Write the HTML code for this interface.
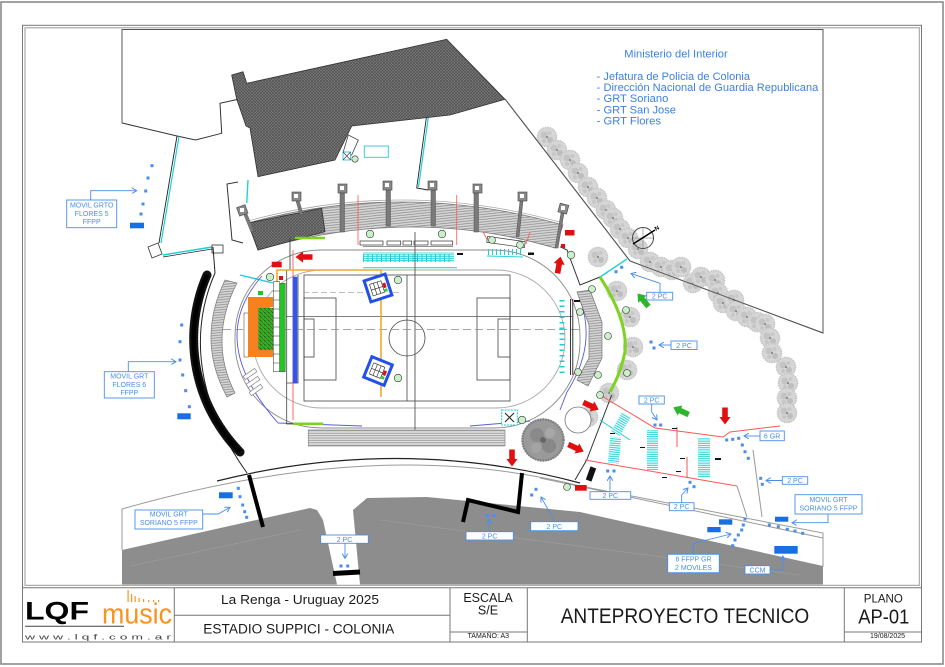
<!DOCTYPE html>
<html><head><meta charset="utf-8">
<style>
html,body{margin:0;padding:0;background:#fff;}
svg{display:block;}
text{font-family:"Liberation Sans",Arial,sans-serif;}
</style></head>
<body>
<svg width="945" height="667" viewBox="0 0 945 667" xmlns="http://www.w3.org/2000/svg">
<defs>
  <pattern id="hd" width="3" height="3" patternUnits="userSpaceOnUse">
    <rect width="3" height="3" fill="#808080"/>
    <path d="M0,0 L3,3 M3,0 L0,3" stroke="#4e4e4e" stroke-width="0.7"/>
  </pattern>
  <pattern id="hl" width="3" height="2.5" patternUnits="userSpaceOnUse" patternTransform="rotate(-6)">
    <rect width="3" height="2.5" fill="#d8d8d8"/>
    <line x1="0" y1="1.2" x2="3" y2="1.2" stroke="#8a8a8a" stroke-width="0.8"/>
  </pattern>
  <pattern id="hs" width="3" height="2.4" patternUnits="userSpaceOnUse">
    <rect width="3" height="2.4" fill="#e4e4e4"/>
    <line x1="0" y1="1.2" x2="3" y2="1.2" stroke="#8e8e8e" stroke-width="0.8"/>
  </pattern>
  <pattern id="cy" width="3" height="2.2" patternUnits="userSpaceOnUse">
    <rect width="3" height="2.2" fill="#fff"/>
    <line x1="0" y1="1.1" x2="3" y2="1.1" stroke="#1ccfd6" stroke-width="1"/>
  </pattern>
  <pattern id="gg" width="4" height="4" patternUnits="userSpaceOnUse">
    <rect width="4" height="4" fill="#22c622"/>
    <path d="M0,0 L4,4" stroke="#8a2020" stroke-width="0.6"/>
    <path d="M0,0 H4 M0,0 V4" stroke="#333" stroke-width="0.4"/>
  </pattern>
  <g id="tr">
    <circle r="10" fill="#d6d6d6"/>
    <circle r="9.6" fill="none" stroke="#c2c2c2" stroke-width="1.6" stroke-dasharray="1 1.4"/>
    <circle cx="-3" cy="-2" r="3.5" fill="#c4c4c4"/>
    <circle cx="3" cy="3" r="3" fill="#bebebe"/>
    <circle cx="2.5" cy="-4" r="2" fill="#c8c8c8"/>
    <circle cx="-3" cy="4" r="2" fill="#c6c6c6"/>
    <circle r="1.1" fill="#8a8a8a"/>
  </g>
  <path id="ra" d="M-8.5,-2.8 L1,-2.8 L1,-5.6 L8.5,0 L1,5.6 L1,2.8 L-8.5,2.8 Z"/>
  <marker id="ah" markerWidth="6" markerHeight="6" refX="5" refY="3" orient="auto" markerUnits="userSpaceOnUse">
    <path d="M0,0 L5,3 L0,6" fill="none" stroke="#4a8ee8" stroke-width="1"/>
  </marker>
</defs>

<!-- page / frame -->
<rect x="0" y="0" width="945" height="667" fill="#fff"/>
<rect x="1" y="2" width="942" height="662" fill="none" stroke="#8a8a8a" stroke-width="1.6"/>
<rect x="22.5" y="25.3" width="899" height="616.7" fill="none" stroke="#777" stroke-width="1"/>
<rect x="25" y="27.8" width="894.3" height="557.5" fill="none" stroke="#999" stroke-width="1"/>

<!-- bottom gray parking -->
<path d="M122,550 L310,508 L317,510 L323,520 L337,584.5 L122,584.5 Z" fill="#8d8d8d"/>
<path d="M353,510 L367,498 L427,497 L580,512 L823,566 L823,584.5 L360,584.5 Z" fill="#8d8d8d"/>
<path d="M130,566 L300,530 M380,520 L800,575" stroke="#a0a0a0" stroke-width="0.6" fill="none"/>

<!-- road lines -->
<path d="M217,481 Q400,435 580,483" fill="none" stroke="#222" stroke-width="1.2"/>
<path d="M122,509 C260,470 420,445 580,486 L823,533 L823,567" fill="none" stroke="#9a9a9a" stroke-width="1"/>
<path d="M540,478 L823,538" fill="none" stroke="#9a9a9a" stroke-width="1"/>
<path d="M122,509 L122,550" fill="none" stroke="#9a9a9a" stroke-width="1"/>
<path d="M737,486 L747,517 M753,450 L762,517" fill="none" stroke="#999" stroke-width="1"/>

<!-- thick black bars -->
<line x1="249" y1="475" x2="263" y2="527" stroke="#000" stroke-width="4"/>
<polyline points="463,522 468,500 518,512 522,473" fill="none" stroke="#000" stroke-width="4"/>
<line x1="333" y1="573.5" x2="360" y2="572" stroke="#000" stroke-width="5"/>

<!-- site boundary -->
<path d="M122,123 L122,29.5 L823,29.5 L823,333 L630,261 L505,99" fill="none" stroke="#555" stroke-width="1"/>
<path d="M122,123 L177,136 L195.5,140 L221.7,133.3 L220,103.3 L238.3,99.3" fill="none" stroke="#333" stroke-width="1"/>
<path d="M238,182 L227,184 L232,240 L243,243" fill="none" stroke="#333" stroke-width="1"/>

<!-- cyan walls -->
<path d="M177,136 L159,243" stroke="#222" stroke-width="0.9" fill="none"/>
<path d="M179,136.5 L161,243" stroke="#1fd0d8" stroke-width="1.2" fill="none"/>
<path d="M163,255 L212,247" stroke="#1fd0d8" stroke-width="1.4" fill="none"/>
<path d="M163,257 L212,249" stroke="#222" stroke-width="0.7" fill="none"/>
<polygon points="148,247 158,243 162,254 152,258" fill="#fff" stroke="#333" stroke-width="0.8"/>
<rect x="212" y="245" width="11" height="8" fill="#fff" stroke="#333" stroke-width="0.8"/>
<path d="M426.7,115 L416.7,188 L428,190" stroke="#222" stroke-width="0.9" fill="none"/>
<path d="M428.5,116 L418.5,187" stroke="#1fd0d8" stroke-width="1.2" fill="none"/>
<path d="M248,180 L246.7,203" stroke="#1fd0d8" stroke-width="1.4" fill="none"/>
<path d="M240,275 L273,283" stroke="#1fd0d8" stroke-width="1.4" fill="none"/>
<path d="M213,247 L215,273" stroke="#222" stroke-width="1" fill="none"/>

<!-- hatched dark polygon -->
<polygon points="231.7,75 243,71.7 246.7,83.3 446.7,39.3 505,99.3 450,115 351.7,126 335,160 258,176.7 250,128 246,126 236.7,99.3" fill="url(#hd)" stroke="#333" stroke-width="0.8"/>

<!-- small structure top -->
<polygon points="348.3,135 358.3,140 351.7,155 343.3,151.7" fill="#fff" stroke="#444" stroke-width="0.8"/>
<rect x="343" y="152" width="7.5" height="8" fill="#fff" stroke="#29b6d6" stroke-width="0.8"/>
<path d="M343,152 L350.5,160 M350.5,152 L343,160" stroke="#333" stroke-width="0.6"/>
<circle cx="355" cy="159" r="3.2" fill="#c9f0c9" stroke="#333" stroke-width="0.6"/>
<rect x="364.3" y="146" width="24" height="11.3" fill="#fff" stroke="#29c4e0" stroke-width="0.9"/>

<!-- left shrubs -->
<path d="M215,273 C190,330 195,400 247,473" fill="none" stroke="#222" stroke-width="1"/>
<path d="M207,275 C183,330 190,400 240,452" fill="none" stroke="#111" stroke-width="9" stroke-dasharray="1.2 1.6" stroke-linecap="round"/>
<path d="M207,275 C183,330 190,400 240,452" fill="none" stroke="#000" stroke-width="4.5"/>

<!-- right trees -->
<g>
<use href="#tr" x="547" y="137"/><use href="#tr" x="557" y="150"/><use href="#tr" x="570" y="160"/>
<use href="#tr" x="578" y="173"/><use href="#tr" x="588" y="187"/><use href="#tr" x="597" y="198"/>
<use href="#tr" x="606" y="210"/><use href="#tr" x="613" y="218"/><use href="#tr" x="620" y="229"/>
<use href="#tr" x="628" y="238"/><use href="#tr" x="638" y="249"/><use href="#tr" x="650" y="262"/>
<use href="#tr" x="661" y="267"/><use href="#tr" x="672" y="270"/><use href="#tr" x="681" y="267"/>
<use href="#tr" x="693" y="283"/><use href="#tr" x="701" y="277"/><use href="#tr" x="715" y="280"/>
<use href="#tr" x="718" y="293"/><use href="#tr" x="723" y="303"/><use href="#tr" x="734" y="300"/>
<use href="#tr" x="736" y="311"/><use href="#tr" x="747" y="317"/><use href="#tr" x="757" y="322"/>
<use href="#tr" x="765" y="324"/><use href="#tr" x="770" y="338"/><use href="#tr" x="772" y="353"/>
<use href="#tr" x="786" y="367"/><use href="#tr" x="788" y="383"/><use href="#tr" x="787" y="398"/>
<use href="#tr" x="787" y="413"/>
<use href="#tr" x="598" y="257"/><use href="#tr" x="617" y="291"/><use href="#tr" x="630" y="317"/>
<use href="#tr" x="633" y="347"/><use href="#tr" x="627" y="370"/><use href="#tr" x="609" y="393"/>
<use href="#tr" x="588" y="417"/>
</g>
<!-- diagonal line redraw over trees -->
<path d="M823,333 L630,261 L505,99" fill="none" stroke="#555" stroke-width="1"/>

<!-- compass -->
<circle cx="643" cy="238" r="10.5" fill="none" stroke="#444" stroke-width="1"/>
<path d="M643,227.5 V248.5 M632.5,238 H653.5" stroke="#666" stroke-width="0.5"/>
<line x1="633" y1="244" x2="655" y2="230" stroke="#000" stroke-width="1.5"/>
<text x="656" y="231" font-size="6" font-weight="bold" transform="rotate(-30 656 231)">N</text>

<!-- track -->
<rect x="235" y="250" width="345" height="178" rx="86" fill="none" stroke="#888" stroke-width="0.9"/>
<rect x="253" y="270" width="312" height="138" rx="69" fill="none" stroke="#aaa" stroke-width="0.9"/>
<path d="M262,276 Q205,340 278,423 L362,426" fill="none" stroke="#5b5bdc" stroke-width="0.9"/>
<path d="M580,300 Q597,345 567,392 L560,410" fill="none" stroke="#5b5bdc" stroke-width="0.9"/>
<path d="M470,426 L530,421" fill="none" stroke="#5b5bdc" stroke-width="0.9"/>

<!-- north grandstand -->
<path d="M248,223 Q405,180 563,225 L555,248 Q410,205 258,250 Z" fill="url(#hl)" stroke="#777" stroke-width="0.8"/>
<path d="M248,223 L321.7,208.3 L325,231.7 L258,250 Z" fill="url(#hd)" stroke="#333" stroke-width="0.8"/>
<path d="M248,221 Q405,178 563,223" fill="none" stroke="#aaa" stroke-width="0.8"/>
<g fill="#7a7a7a" stroke="#555" stroke-width="0.5">
  <path d="M244,215 L251,232 L254,231 L247,214 Z"/>
  <path d="M296,201 L300,215 L303,214 L299,200 Z"/>
  <rect x="340" y="193" width="4.5" height="39"/>
  <rect x="386" y="190" width="4.5" height="36"/>
  <rect x="431" y="190" width="4.5" height="36"/>
  <rect x="474" y="193" width="4.5" height="39"/>
  <path d="M520,201 L516,237 L519,237 L523,201 Z"/>
  <path d="M561,213 L555,248 L558,248 L564,213 Z"/>
</g>
<g fill="#8a8a8a" stroke="#444" stroke-width="0.6">
  <rect x="238" y="206" width="9" height="9" transform="rotate(-20 242 211)"/>
  <rect x="292" y="192" width="9" height="9"/>
  <rect x="338" y="184" width="9" height="9"/>
  <rect x="383" y="181" width="9" height="9"/>
  <rect x="428" y="181" width="9" height="9"/>
  <rect x="473" y="184" width="9" height="9"/>
  <rect x="518" y="192" width="9" height="9"/>
  <rect x="559" y="204" width="9" height="9" transform="rotate(15 563 208)"/>
</g>
<g fill="#fff">
  <rect x="240" y="208" width="4" height="4"/><rect x="294" y="194" width="4" height="4"/>
  <rect x="340" y="186" width="4" height="4"/><rect x="385" y="183" width="4" height="4"/>
  <rect x="430" y="183" width="4" height="4"/><rect x="475" y="186" width="4" height="4"/>
  <rect x="520" y="194" width="4" height="4"/><rect x="561" y="206" width="4" height="4"/>
</g>
<path d="M295,238 L325,238" stroke="#7ed321" stroke-width="2.5"/>

<!-- under north stand -->
<path d="M358,195 L358,245 M456.7,195 L456.7,245 M483,231.7 L488,241.7 M530,232 L526,244" stroke="#f55" stroke-width="0.8" fill="none"/>
<g fill="#fff" stroke="#333" stroke-width="0.7">
  <rect x="360" y="241" width="23" height="4"/><rect x="387" y="241" width="13.7" height="4"/>
  <rect x="403" y="241" width="8.7" height="4"/><rect x="414" y="241" width="14" height="4"/>
  <rect x="431" y="241" width="21.7" height="4"/>
  <rect x="487" y="239" width="38" height="6" transform="rotate(8 506 242)"/>
</g>
<line x1="363" y1="246.7" x2="453" y2="246.7" stroke="#555" stroke-width="0.6"/>
<rect x="363" y="252" width="91" height="10" fill="url(#cy)"/>
<line x1="363" y1="258" x2="453" y2="258" stroke="#1ccfd6" stroke-width="8" stroke-dasharray="1 3.5"/>
<line x1="363" y1="267.7" x2="457" y2="267.7" stroke="#1ccfd6" stroke-width="1"/>
<line x1="488" y1="252" x2="523" y2="252" stroke="#1ccfd6" stroke-width="6" stroke-dasharray="1 3"/>
<line x1="487" y1="256" x2="523" y2="257" stroke="#1ccfd6" stroke-width="0.9"/>
<rect x="457" y="253" width="6" height="2" fill="#111"/><rect x="528" y="253" width="6" height="2" fill="#111"/>

<!-- pitch -->
<g fill="none" stroke="#444" stroke-width="0.8">
  <rect x="304" y="275" width="206" height="126"/>
  <line x1="407" y1="275" x2="407" y2="401"/>
  <circle cx="407" cy="338" r="18"/>
  <rect x="304" y="298" width="32" height="82"/>
  <rect x="304" y="319" width="10" height="38"/>
  <rect x="477" y="298" width="33" height="82"/>
  <rect x="498" y="319" width="12" height="38"/>
  <path d="M286.7,270 L286.7,424 L296,424 M298,275 L298,383 L286.7,383"/>
</g>
<line x1="415" y1="232" x2="415" y2="432" stroke="#555" stroke-width="0.9"/>
<line x1="286" y1="316.5" x2="572" y2="316.5" stroke="#555" stroke-width="0.8"/>
<line x1="223" y1="329.5" x2="580" y2="329.5" stroke="#888" stroke-width="0.8" stroke-dasharray="8 4"/>
<line x1="303" y1="292.7" x2="400" y2="292.7" stroke="#999" stroke-width="0.7" stroke-dasharray="6 3"/>
<path d="M293,250 L293,420" stroke="#f44" stroke-width="0.8"/>
<path d="M290,238 L290,270" stroke="#333" stroke-width="0.8"/>

<!-- orange line -->
<path d="M277,282 L277,270 L381,270 L381,397" fill="none" stroke="#f0a830" stroke-width="1.6"/>

<!-- west stand -->
<path d="M225,280 Q196,340 227,397 L235,393 Q208,340 237,283 Z" fill="url(#hl)" stroke="#777" stroke-width="0.7"/>
<g fill="#fff" stroke="#888" stroke-width="0.7">
  <rect x="243" y="372" width="14" height="4" transform="rotate(-35 250 374)"/>
  <rect x="246" y="380" width="14" height="4" transform="rotate(-35 253 382)"/>
  <rect x="249" y="388" width="14" height="4" transform="rotate(-35 256 390)"/>
</g>

<!-- stage -->
<rect x="244" y="313" width="4.5" height="44" fill="#fff" stroke="#333" stroke-width="0.5"/>
<path d="M248,297 H274 V307 H270 V348 H274 V357 H248 Z" fill="#f5821f"/>
<rect x="258.3" y="308" width="15" height="42" fill="url(#gg)"/>
<rect x="273.3" y="281.7" width="6.5" height="90" fill="#fff" stroke="#333" stroke-width="0.5"/>
<path d="M273.3,291 h6.5 M273.3,300 h6.5 M273.3,309 h6.5 M273.3,318 h6.5 M273.3,327 h6.5 M273.3,336 h6.5 M273.3,345 h6.5 M273.3,354 h6.5 M273.3,363 h6.5" stroke="#333" stroke-width="0.5"/>
<rect x="279.5" y="283.3" width="5.7" height="88.4" fill="#22c622" stroke="#333" stroke-width="0.4"/>
<rect x="292.7" y="276.7" width="4.6" height="106.6" fill="#3355ee"/>
<rect x="258" y="291" width="5" height="4" fill="#22c622"/>

<!-- FOH boxes -->
<g transform="translate(378,288) rotate(-18)">
  <rect x="-11" y="-11" width="22" height="22" fill="#fff" stroke="#2250e8" stroke-width="3"/>
  <path d="M-7,-6 H5 M-7,0 H5 M-7,6 H5 M-7,-6 V6 M-3,-6 V6 M1,-6 V6 M5,-6 V6" stroke="#222" stroke-width="0.6"/>
  <rect x="5.5" y="-3" width="3" height="5" fill="#e01010"/>
  <rect x="5.5" y="3" width="3" height="3" fill="#3c3"/>
</g>
<g transform="translate(378,371) rotate(22)">
  <rect x="-11" y="-11" width="22" height="22" fill="#fff" stroke="#2250e8" stroke-width="3"/>
  <path d="M-7,-6 H5 M-7,0 H5 M-7,6 H5 M-7,-6 V6 M-3,-6 V6 M1,-6 V6 M5,-6 V6" stroke="#222" stroke-width="0.6"/>
  <rect x="5.5" y="-3" width="3" height="5" fill="#e01010"/>
  <rect x="5.5" y="3" width="3" height="3" fill="#3c3"/>
</g>

<!-- cyan box with X near south -->
<rect x="501.7" y="410" width="15.6" height="15" fill="#fff" stroke="#1ccfd6" stroke-width="1" stroke-dasharray="2 1"/>
<path d="M505,413 L514,422 M514,413 L505,422" stroke="#222" stroke-width="1"/>

<!-- south stand -->
<rect x="308.3" y="430" width="196.7" height="16" fill="url(#hs)" stroke="#888" stroke-width="0.7"/>
<path d="M293.3,423.8 L323.3,423.8" stroke="#7ed321" stroke-width="2.5"/>

<!-- east stand & line -->
<polygon points="577,292 590,290 602,322 602,358 588,386 577,380 589,358 589,325" fill="url(#hl)" stroke="#777" stroke-width="0.7"/>
<path d="M560,246.7 L567,250 L580,285 L600,277" fill="none" stroke="#333" stroke-width="1"/>
<path d="M600,277 L627,259" fill="none" stroke="#1fd0d8" stroke-width="1.4"/>
<path d="M600,277 Q628,320 625,352 Q620,375 610,392" fill="none" stroke="#7ed321" stroke-width="3"/>
<path d="M611.7,395 L586.7,460 L575,480" fill="none" stroke="#333" stroke-width="1"/>
<path d="M570.5,299 V375 M572.8,299 V375" stroke="#222" stroke-width="0.9"/>
<line x1="562" y1="300" x2="562" y2="375" stroke="#1ccfd6" stroke-width="5" stroke-dasharray="1.5 4"/>

<!-- big dark tree & circle -->
<g transform="translate(543,440)">
  <circle r="21.5" fill="#9a9a9a"/>
  <circle r="20.5" fill="none" stroke="#7a7a7a" stroke-width="2.5" stroke-dasharray="1.2 1.4"/>
  <circle cx="-6" cy="-5" r="7" fill="#8a8a8a"/>
  <circle cx="6" cy="6" r="7" fill="#888"/>
  <circle cx="7" cy="-7" r="5" fill="#a8a8a8"/>
  <circle cx="-7" cy="8" r="5" fill="#a4a4a4"/>
  <circle r="3" fill="#666"/>
</g>
<circle cx="578" cy="420" r="13" fill="#fff" stroke="#777" stroke-width="0.8"/>

<!-- SE area fences & stairs -->
<path d="M600,395 L655,428 L723,437 L730,432 L780,426" fill="none" stroke="#f55" stroke-width="1"/>
<path d="M585,460 L737,486" fill="none" stroke="#f55" stroke-width="1"/>
<path d="M677,427 L677,447 M687,457 L687,477" fill="none" stroke="#f55" stroke-width="1"/>
<path d="M600,420 L630,440" stroke="#1ccfd6" stroke-width="1"/>
<rect x="609" y="437" width="11" height="26" fill="url(#cy)" transform="rotate(5 614 450)"/>
<rect x="616" y="413" width="10" height="22" fill="url(#cy)" transform="rotate(30 621 424)"/>
<rect x="647" y="430" width="11" height="40" fill="url(#cy)"/>
<rect x="698" y="438" width="12" height="40" fill="url(#cy)"/>
<g fill="#111">
  <rect x="610" y="433" width="5" height="1"/><rect x="640" y="447" width="5" height="1"/>
  <rect x="672" y="428" width="5" height="1"/><rect x="680" y="458" width="5" height="1"/>
  <rect x="676" y="471" width="5" height="1"/><rect x="715" y="458" width="6" height="2"/>
  <rect x="662" y="477" width="5" height="1"/>
</g>
<rect x="588" y="467" width="6" height="14" fill="#111" transform="rotate(20 591 474)"/>
<circle cx="567" cy="487" r="3.5" fill="#c9f0c9" stroke="#333" stroke-width="0.6"/>

<!-- green circles -->
<g fill="#c9f0c9" stroke="#333" stroke-width="0.6">
  <circle cx="370" cy="234" r="3.8"/><circle cx="442" cy="234" r="3.8"/>
  <circle cx="492" cy="240" r="3.5"/><circle cx="520" cy="245" r="3.5"/>
  <circle cx="571" cy="255" r="3.8"/><circle cx="592" cy="289" r="3.5"/>
  <circle cx="580" cy="312" r="3.5"/><circle cx="608" cy="336" r="3.5"/>
  <circle cx="578" cy="372" r="3.5"/><circle cx="598" cy="375" r="3.5"/>
  <circle cx="626" cy="310" r="3.5"/><circle cx="627" cy="373" r="3.5"/>
  <circle cx="522" cy="420" r="3.8"/><circle cx="270" cy="277" r="3.8"/>
  <circle cx="398" cy="280" r="3.8"/><circle cx="398" cy="378" r="3.8"/>
  <circle cx="600" cy="395" r="3.5"/>
</g>

<!-- red bits -->
<g fill="#e01010">
  <rect x="271.7" y="261.7" width="10" height="5.6"/>
  <rect x="565" y="230" width="9.5" height="5.5"/>
  <rect x="575" y="485" width="11.7" height="5.7"/>
  <rect x="561" y="244" width="4" height="4"/>
  <rect x="279" y="276" width="4" height="4"/>
  <use href="#ra" transform="translate(304,257) rotate(180)"/>
  <use href="#ra" transform="translate(559,265) rotate(-80)"/>
  <use href="#ra" transform="translate(591,406) rotate(25)"/>
  <use href="#ra" transform="translate(576,448) rotate(25)"/>
  <use href="#ra" transform="translate(512,458) rotate(90)"/>
  <use href="#ra" transform="translate(725,416) rotate(90)"/>
</g>
<g fill="#2db52d">
  <use href="#ra" transform="translate(643,300) rotate(-130)"/>
  <use href="#ra" transform="translate(681,411) rotate(-155)"/>
</g>
<g fill="#111">
  <rect x="528" y="252.5" width="6" height="2"/><rect x="574" y="300" width="6" height="2"/>
</g>

<!-- blue filled rects -->
<g fill="#1a6fe0">
  <rect x="130" y="222.7" width="14" height="5.6"/>
  <rect x="177.3" y="413.3" width="13.4" height="6"/>
  <rect x="219" y="492.3" width="13.7" height="6"/>
  <rect x="775" y="516.7" width="13.3" height="5"/>
  <rect x="719" y="519.3" width="13.3" height="5.4"/>
  <rect x="707.3" y="527" width="13.4" height="5.3"/>
  <rect x="774.3" y="546" width="23.4" height="7.7"/>
</g>

<!-- blue x markers -->
<g fill="#4a8ee8">
  <rect x="150.5" y="164.2" width="3" height="3"/><rect x="146.5" y="176.5" width="3" height="3"/>
  <rect x="144.2" y="189.5" width="3" height="3"/><rect x="141.5" y="202.5" width="3" height="3"/>
  <rect x="139.5" y="212.5" width="3" height="3"/>
  <rect x="180.2" y="323.5" width="3" height="3"/><rect x="178.5" y="340.2" width="3" height="3"/>
  <rect x="178.5" y="358.5" width="3" height="3"/><rect x="181.2" y="373.5" width="3" height="3"/>
  <rect x="184.2" y="389.2" width="3" height="3"/><rect x="187.8" y="405.2" width="3" height="3"/>
  <rect x="236.8" y="486.8" width="3" height="3"/><rect x="238.5" y="495.2" width="3" height="3"/>
  <rect x="241.2" y="503.5" width="3" height="3"/><rect x="243.2" y="510.2" width="3" height="3"/>
  <rect x="245.2" y="515.8" width="3" height="3"/>
  <rect x="339.5" y="564.5" width="3" height="3"/><rect x="346.2" y="564.5" width="3" height="3"/>
  <rect x="485.8" y="514" width="3" height="3"/><rect x="492.5" y="514" width="3" height="3"/>
  <rect x="530.2" y="493.5" width="3" height="3"/><rect x="534.5" y="487.8" width="3" height="3"/>
  <rect x="606.2" y="469.5" width="3" height="3"/><rect x="612.5" y="469.5" width="3" height="3"/>
  <rect x="653.5" y="423.5" width="3" height="3"/><rect x="659.2" y="423.5" width="3" height="3"/>
  <rect x="688.5" y="480.8" width="3" height="3"/><rect x="692.5" y="485.2" width="3" height="3"/>
  <rect x="725.2" y="438.5" width="3" height="3"/><rect x="731.2" y="437.8" width="3" height="3"/>
  <rect x="737.2" y="436.8" width="3" height="3"/><rect x="740.8" y="443.5" width="3" height="3"/>
  <rect x="743.5" y="450.2" width="3" height="3"/><rect x="746.8" y="456.8" width="3" height="3"/>
  <rect x="759.2" y="476.8" width="3" height="3"/><rect x="760.8" y="482.8" width="3" height="3"/>
  <rect x="767.8" y="523.5" width="3" height="3"/><rect x="776.8" y="525.2" width="3" height="3"/>
  <rect x="785.8" y="527.8" width="3" height="3"/><rect x="793.5" y="529.5" width="3" height="3"/>
  <rect x="801.2" y="531.8" width="3" height="3"/>
  <rect x="743.5" y="517.5" width="3" height="3"/><rect x="741.8" y="523.5" width="3" height="3"/>
  <rect x="740.2" y="528.5" width="3" height="3"/><rect x="736.8" y="533.5" width="3" height="3"/>
  <rect x="733.5" y="538.5" width="3" height="3"/><rect x="731.2" y="544.2" width="3" height="3"/>
  <rect x="614.5" y="270.2" width="3" height="3"/><rect x="620.2" y="265.8" width="3" height="3"/>
  <rect x="649.5" y="340.5" width="3" height="3"/><rect x="652.5" y="346.5" width="3" height="3"/>
</g>

<!-- label arrows -->
<g fill="none" stroke="#4a8ee8" stroke-width="0.9" marker-end="url(#ah)">
  <path d="M90.7,200 L90.7,190.7 L136.7,190.7"/>
  <path d="M128.3,371.7 L128.3,361.7 L176,361.7"/>
  <path d="M202.7,514 L218.3,514 L230,507.3"/>
  <path d="M345,543.3 L345,558.3"/>
  <path d="M489.3,531.7 L489.3,519"/>
  <path d="M555,521.7 L541,497"/>
  <path d="M610,491.7 L610,476"/>
  <path d="M651.7,404 L651.7,412 L657,420"/>
  <path d="M681.7,502.7 L681.7,495 L688,488"/>
  <path d="M760,436 L744,436"/>
  <path d="M782.3,480.5 L766,480.5"/>
  <path d="M828,514 L828,522.7 L792,522.7"/>
  <path d="M693.3,554.3 L693.3,543.3 L731,534"/>
  <path d="M770,570 L782.7,570 L782.7,556"/>
  <path d="M660,292.3 L660,283.3 L631,273.5"/>
  <path d="M671,345 L659,345"/>
</g>

<!-- label boxes -->
<g fill="#fff" stroke="#4a8ee8" stroke-width="0.9">
  <rect x="66.7" y="200" width="50" height="27.7"/>
  <rect x="104.3" y="371.7" width="50" height="26.3"/>
  <rect x="135" y="510" width="67.7" height="19"/>
  <rect x="320.7" y="535" width="47.6" height="8.3"/>
  <rect x="466" y="531.7" width="47.3" height="8.3"/>
  <rect x="530.7" y="521.7" width="47.3" height="9"/>
  <rect x="590" y="491.7" width="40.7" height="7.6"/>
  <rect x="639" y="396" width="25.3" height="8"/>
  <rect x="669.3" y="502.7" width="24.7" height="8"/>
  <rect x="760" y="431" width="24.3" height="9.7"/>
  <rect x="782.3" y="476.7" width="25.4" height="7.6"/>
  <rect x="795" y="494.7" width="67" height="19.3"/>
  <rect x="667.7" y="554.3" width="51.6" height="18.4"/>
  <rect x="745" y="565.7" width="25" height="8.3"/>
  <rect x="646.7" y="292.3" width="26" height="7.7"/>
  <rect x="671" y="341" width="26" height="8.5"/>
</g>
<g fill="#4a8ee8" font-size="7" text-anchor="middle">
  <text x="91.7" y="207.3">MOVIL GRTO</text>
  <text x="91.7" y="215.8">FLORES 5</text>
  <text x="91.7" y="224.2">FFPP</text>
  <text x="129.3" y="378.5">MOVIL GRT</text>
  <text x="129.3" y="386.8">FLORES 6</text>
  <text x="129.3" y="395.2">FFPP</text>
  <text x="168.8" y="516.6">MOVIL GRT</text>
  <text x="168.8" y="525">SORIANO 5 FFPP</text>
  <text x="344.5" y="541.8">2 PC</text>
  <text x="489.6" y="538.5">2 PC</text>
  <text x="554.3" y="528.8">2 PC</text>
  <text x="610.3" y="498.2">2 PC</text>
  <text x="651.6" y="402.6">2 PC</text>
  <text x="681.6" y="509.2">2 PC</text>
  <text x="772.1" y="438.4">6 GR</text>
  <text x="795" y="483.1">2 PC</text>
  <text x="828.5" y="502">MOVIL GRT</text>
  <text x="828.5" y="510.5">SORIANO 5 FFPP</text>
  <text x="693.5" y="561.6">6 FFPP GR</text>
  <text x="693.5" y="570">2 MOVILES</text>
  <text x="757.5" y="572.4">CCM</text>
  <text x="659.7" y="298.7">2 PC</text>
  <text x="684" y="347.8">2 PC</text>
</g>

<!-- top-right text -->
<g fill="#3b82e0" font-size="11">
  <text x="624.3" y="57.7" textLength="103.4" lengthAdjust="spacingAndGlyphs">Ministerio del Interior</text>
  <text x="596.7" y="80" textLength="153.3" lengthAdjust="spacingAndGlyphs">- Jefatura de Policia de Colonia</text>
  <text x="596.7" y="91.2" textLength="221.6" lengthAdjust="spacingAndGlyphs">- Dirección Nacional de Guardia Republicana</text>
  <text x="596.7" y="102.2" textLength="71.6" lengthAdjust="spacingAndGlyphs">- GRT Soriano</text>
  <text x="596.7" y="113.3" textLength="79.3" lengthAdjust="spacingAndGlyphs">- GRT San Jose</text>
  <text x="596.7" y="124.3" textLength="64.3" lengthAdjust="spacingAndGlyphs">- GRT Flores</text>
</g>

<!-- title block -->
<g stroke="#777" stroke-width="1" fill="none">
  <line x1="22.5" y1="587.7" x2="921.5" y2="587.7"/>
  <line x1="174.3" y1="587.7" x2="174.3" y2="642"/>
  <line x1="450" y1="587.7" x2="450" y2="642"/>
  <line x1="527.3" y1="587.7" x2="527.3" y2="642"/>
  <line x1="844.3" y1="587.7" x2="844.3" y2="642"/>
  <line x1="921.5" y1="585" x2="921.5" y2="642"/>
  <line x1="174.3" y1="615.3" x2="450" y2="615.3"/>
  <line x1="450" y1="632" x2="527.3" y2="632"/>
  <line x1="844.3" y1="632" x2="921.5" y2="632"/>
</g>
<text x="25" y="619.3" font-size="25" font-weight="bold" fill="#000" textLength="64" lengthAdjust="spacingAndGlyphs">LQF</text>
<line x1="25" y1="626.3" x2="124" y2="626.3" stroke="#444" stroke-width="1"/>
<text x="102" y="623.5" font-size="29" fill="#f7931e" textLength="70" lengthAdjust="spacingAndGlyphs">music</text>
<g fill="#f7931e">
  <rect x="127.5" y="590" width="1.2" height="12"/><rect x="131" y="594" width="1.2" height="8"/>
  <rect x="134.5" y="596" width="1.2" height="6"/><rect x="138.5" y="598" width="1.2" height="4"/>
  <rect x="143" y="599" width="1.2" height="3"/><rect x="148" y="600" width="1.2" height="2"/>
  <rect x="153" y="600" width="1.2" height="2"/><rect x="158" y="600" width="1.2" height="2"/>
</g>
<text x="25" y="639.5" font-size="7.5" fill="#444" textLength="146" lengthAdjust="spacingAndGlyphs">w w w . l q f . c o m . a r</text>
<g fill="#1a1a1a">
  <text x="221" y="604" font-size="13.3" textLength="158" lengthAdjust="spacingAndGlyphs">La Renga - Uruguay 2025</text>
  <text x="203.3" y="633.7" font-size="13.5" textLength="191" lengthAdjust="spacingAndGlyphs">ESTADIO SUPPICI - COLONIA</text>
  <text x="488" y="602" font-size="12.5" text-anchor="middle">ESCALA</text>
  <text x="488" y="614.7" font-size="12.5" text-anchor="middle">S/E</text>
  <text x="488.3" y="638.2" font-size="7" text-anchor="middle">TAMAÑO: A3</text>
  <text x="560.7" y="623" font-size="21" textLength="248.6" lengthAdjust="spacingAndGlyphs">ANTEPROYECTO TECNICO</text>
  <text x="883.3" y="602.7" font-size="11.5" text-anchor="middle">PLANO</text>
  <text x="858.3" y="623.7" font-size="20.5" textLength="51" lengthAdjust="spacingAndGlyphs">AP-01</text>
  <text x="887.5" y="638.2" font-size="7" text-anchor="middle">19/08/2025</text>
</g>
</svg>
</body></html>
